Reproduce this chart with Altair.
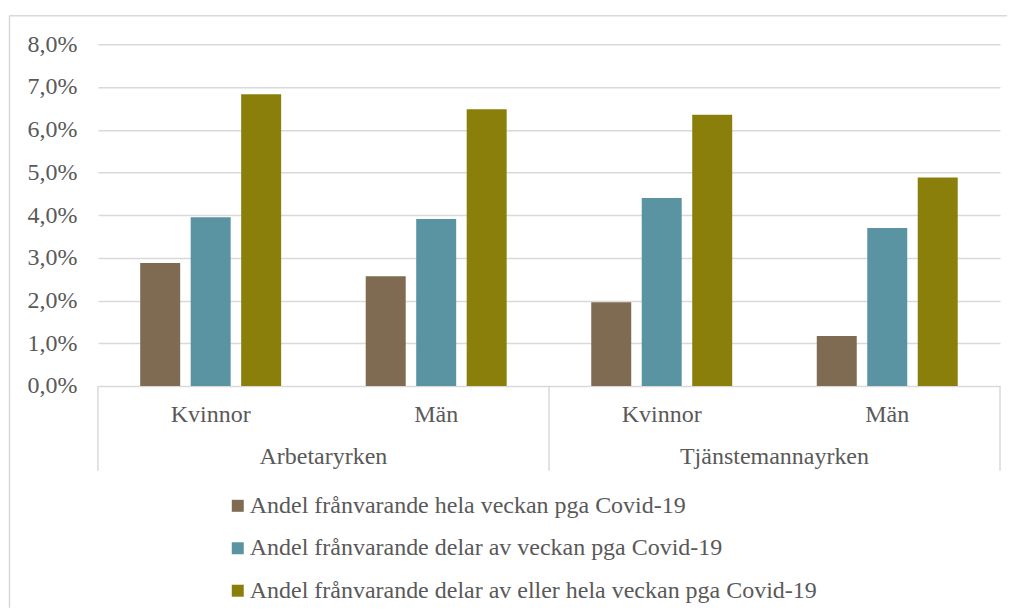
import altair as alt
import pandas as pd

# ---- data ----
cat_keys = ["AK", "AM", "TK", "TM"]
genders = ["Kvinnor", "Män", "Kvinnor", "Män"]
group_names = ["Arbetaryrken", "Tjänstemannayrken"]
series_names = [
    "Andel frånvarande hela veckan pga Covid-19",
    "Andel frånvarande delar av veckan pga Covid-19",
    "Andel frånvarande delar av eller hela veckan pga Covid-19",
]
hela = [2.88, 2.57, 1.96, 1.17]
delar = [3.95, 3.91, 4.40, 3.70]
totalt = [6.83, 6.48, 6.35, 4.88]
y_ticks = [0, 1, 2, 3, 4, 5, 6, 7, 8]
colors = ["#7F6A52", "#5A93A1", "#8B7F0C"]

rows = []
for s, vals in zip(series_names, [hela, delar, totalt]):
    for k, v in zip(cat_keys, vals):
        rows.append({"cat": k, "series": s, "value": v / 100})
df = pd.DataFrame(rows)

sub_df = pd.DataFrame({"pos": [i + 0.5 for i in range(len(genders))], "label": genders})
grp_df = pd.DataFrame({"pos": [1, 3], "label": group_names})
sep_df = pd.DataFrame({"pos": [0, 2, 4]})
one_df = pd.DataFrame({"a": [0]})

W, H = 903, 342
FONT = "Liberation Serif"
FS = 24
TXT = "#595959"
GRID = "#D9D9D9"

xq = alt.Scale(domain=[0, 4], nice=False, zero=False)

bars = alt.Chart(df).mark_bar().encode(
    x=alt.X("cat:N", sort=cat_keys,
            scale=alt.Scale(domain=cat_keys, paddingInner=0.375, paddingOuter=0.1875),
            axis=None),
    xOffset=alt.XOffset("series:N", sort=series_names,
                        scale=alt.Scale(domain=series_names, paddingInner=0.208, paddingOuter=0)),
    y=alt.Y("value:Q", scale=alt.Scale(domain=[0, 0.08], nice=False),
            axis=alt.Axis(values=[t / 100 for t in y_ticks],
                          labelExpr="replace(format(datum.value*100,'.1f'),'.',',') + '%'",
                          domain=False, ticks=False, labelPadding=21,
                          gridColor=GRID, gridWidth=1.5,
                          labelFont=FONT, labelFontSize=FS, labelColor=TXT, title=None)),
    color=alt.Color("series:N", sort=series_names,
                    scale=alt.Scale(domain=series_names, range=colors),
                    legend=alt.Legend(title=None, orient="none", legendX=128, legendY=450,
                                      direction="vertical", symbolType="square",
                                      symbolSize=144, symbolStrokeWidth=0,
                                      labelFont=FONT, labelFontSize=FS, labelColor=TXT,
                                      labelLimit=1000, rowPadding=18.5, labelOffset=0,
                                      padding=0)),
)

subs = alt.Chart(sub_df).mark_text(font=FONT, fontSize=FS, color=TXT, baseline="alphabetic").encode(
    x=alt.X("pos:Q", scale=xq, axis=None),
    y=alt.value(378),
    text="label:N",
)

grps = alt.Chart(grp_df).mark_text(font=FONT, fontSize=FS, color=TXT, baseline="alphabetic").encode(
    x=alt.X("pos:Q", scale=xq, axis=None),
    y=alt.value(420),
    text="label:N",
)

seps = alt.Chart(sep_df).mark_rule(color=GRID, strokeWidth=1.5).encode(
    x=alt.X("pos:Q", scale=xq, axis=None),
    y=alt.value(342),
    y2=alt.value(427),
)

border_left = alt.Chart(one_df).mark_rule(color=GRID, strokeWidth=1.5).encode(
    x=alt.value(-88.5), y=alt.value(-28.5), y2=alt.value(564),
)
border_top = alt.Chart(one_df).mark_rule(color=GRID, strokeWidth=1.5).encode(
    x=alt.value(-88.5), x2=alt.value(910), y=alt.value(-28.5),
)

chart = (
    alt.layer(border_left, border_top, bars, seps, subs, grps)
    .resolve_scale(x="independent")
    .properties(width=W, height=H, padding={"left": 0, "top": 6, "right": 0, "bottom": 0})
    .configure_view(stroke=None)
)

chart.save("out.html", embed_options={"renderer": "svg", "actions": False})
